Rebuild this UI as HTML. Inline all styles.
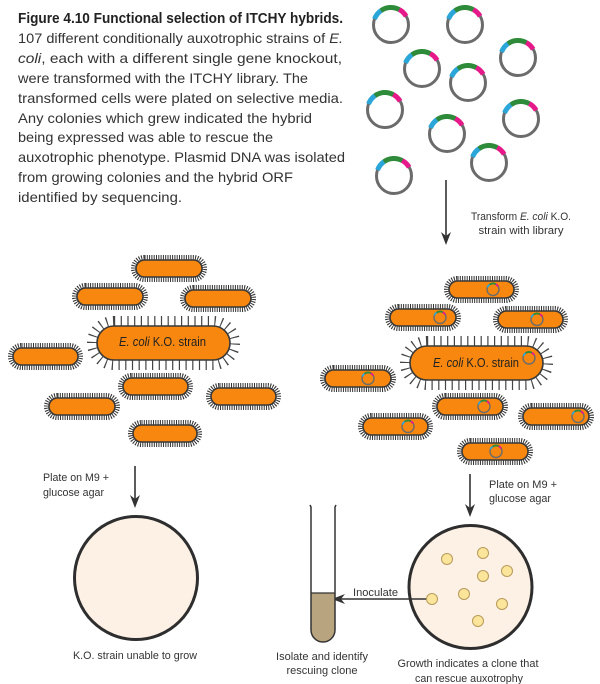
<!DOCTYPE html>
<html><head><meta charset="utf-8"><style>
html,body{margin:0;padding:0;background:#fff;}
svg{display:block;}
.cap{font-family:"Liberation Sans",sans-serif;font-size:14px;fill:#333;}
.ttl{font-family:"Liberation Sans",sans-serif;font-size:14.5px;font-weight:bold;fill:#222;}
.lb{font-family:"Liberation Sans",sans-serif;font-size:11px;fill:#333;}
.bt{font-family:"Liberation Sans",sans-serif;font-size:12.5px;fill:#222;}
.h{fill:none;stroke:#333;stroke-width:5;stroke-dasharray:1 1.3;}
.hb{fill:none;stroke:#444;stroke-width:10;stroke-dasharray:1.2 5.5;}
.b{fill:#f7870f;stroke:#383838;stroke-width:1.6;}
.col{fill:#fbe59a;stroke:#b89a5a;stroke-width:1;}
</style></head><body>
<svg width="600" height="684" viewBox="0 0 600 684" xmlns="http://www.w3.org/2000/svg">
<defs>
<g id="pl">
<circle r="17.5" fill="none" stroke="#6b6b6b" stroke-width="3"/>
<path d="M-16.44 -5.99 A17.5 17.5 0 0 1 -10.04 -14.34" fill="none" stroke="#2ba6d9" stroke-width="5"/>
<path d="M-10.04 -14.34 A17.5 17.5 0 0 1 8.22 -15.45" fill="none" stroke="#2e8b3a" stroke-width="5"/>
<path d="M8.22 -15.45 A17.5 17.5 0 0 1 15.16 -8.75" fill="none" stroke="#e6198a" stroke-width="5"/>
</g>
<g id="ps">
<circle r="6" fill="none" stroke="#6b6b6b" stroke-width="1.4"/>
<path d="M-5.64 -2.05 A6 6 0 0 1 -3.44 -4.91" fill="none" stroke="#2ba6d9" stroke-width="1.8"/>
<path d="M-3.44 -4.91 A6 6 0 0 1 2.82 -5.30" fill="none" stroke="#2e8b3a" stroke-width="1.8"/>
<path d="M2.82 -5.30 A6 6 0 0 1 5.20 -3.00" fill="none" stroke="#e6198a" stroke-width="1.8"/>
</g>
<path id="ahd" d="M0 0 L-5 -13 L0 -9 L5 -13 Z" fill="#333"/>
</defs>

<!-- Caption -->
<text class="ttl" x="18" y="23" textLength="325" lengthAdjust="spacingAndGlyphs">Figure 4.10 Functional selection of ITCHY hybrids.</text>
<text class="cap" x="18" y="43" textLength="325" lengthAdjust="spacingAndGlyphs">107 different conditionally auxotrophic strains of <tspan font-style="italic">E.</tspan></text>
<text class="cap" x="18" y="63" textLength="324" lengthAdjust="spacingAndGlyphs"><tspan font-style="italic">coli</tspan>, each with a different single gene knockout,</text>
<text class="cap" x="18" y="83" textLength="290" lengthAdjust="spacingAndGlyphs">were transformed with the ITCHY library. The</text>
<text class="cap" x="18" y="103" textLength="325" lengthAdjust="spacingAndGlyphs">transformed cells were plated on selective media.</text>
<text class="cap" x="18" y="123" textLength="294" lengthAdjust="spacingAndGlyphs">Any colonies which grew indicated the hybrid</text>
<text class="cap" x="18" y="142" textLength="255" lengthAdjust="spacingAndGlyphs">being expressed was able to rescue the</text>
<text class="cap" x="18" y="162" textLength="327" lengthAdjust="spacingAndGlyphs">auxotrophic phenotype. Plasmid DNA was isolated</text>
<text class="cap" x="18" y="182" textLength="275" lengthAdjust="spacingAndGlyphs">from growing colonies and the hybrid ORF</text>
<text class="cap" x="18" y="202" textLength="164" lengthAdjust="spacingAndGlyphs">identified by sequencing.</text>

<!-- Plasmids -->
<use href="#pl" transform="translate(391,25)"/>
<use href="#pl" transform="translate(465,25)"/>
<use href="#pl" transform="translate(518,58)"/>
<use href="#pl" transform="translate(422,69)"/>
<use href="#pl" transform="translate(468,83)"/>
<use href="#pl" transform="translate(385,110)"/>
<use href="#pl" transform="translate(521,119)"/>
<use href="#pl" transform="translate(447,134)"/>
<use href="#pl" transform="translate(394,176)"/>
<use href="#pl" transform="translate(489,163)"/>

<!-- Transform arrow -->
<line x1="446" y1="180" x2="446" y2="238" stroke="#333" stroke-width="1.6"/>
<use href="#ahd" transform="translate(446,245)"/>
<text class="lb" x="521" y="220" text-anchor="middle" textLength="100" lengthAdjust="spacingAndGlyphs">Transform <tspan font-style="italic">E. coli</tspan> K.O.</text>
<text class="lb" x="521" y="234" text-anchor="middle" textLength="85" lengthAdjust="spacingAndGlyphs">strain with library</text>

<!-- Left bacteria -->
<rect class="h" x="133.5" y="257.5" width="71" height="22" rx="11"/><rect class="b" x="136" y="260" width="66" height="17" rx="8.5"/>
<rect class="h" x="74.5" y="285.5" width="71" height="22" rx="11"/><rect class="b" x="77" y="288" width="66" height="17" rx="8.5"/>
<rect class="h" x="182.5" y="287.5" width="71" height="22" rx="11"/><rect class="b" x="185" y="290" width="66" height="17" rx="8.5"/>
<rect class="h" x="10.5" y="345.5" width="70" height="22" rx="11"/><rect class="b" x="13" y="348" width="65" height="17" rx="8.5"/>
<rect class="h" x="120.5" y="375.5" width="70" height="22" rx="11"/><rect class="b" x="123" y="378" width="65" height="17" rx="8.5"/>
<rect class="h" x="208.5" y="385.5" width="70" height="22" rx="11"/><rect class="b" x="211" y="388" width="65" height="17" rx="8.5"/>
<rect class="h" x="46.5" y="395.5" width="71" height="22" rx="11"/><rect class="b" x="49" y="398" width="66" height="17" rx="8.5"/>
<rect class="h" x="130.5" y="422.5" width="69" height="22" rx="11"/><rect class="b" x="133" y="425" width="64" height="17" rx="8.5"/>
<rect class="hb" x="92" y="321" width="143" height="44" rx="22"/><rect class="b" x="97" y="326" width="133" height="34" rx="17"/>
<text class="bt" x="119" y="346" textLength="87" lengthAdjust="spacingAndGlyphs"><tspan font-style="italic">E. coli</tspan> K.O. strain</text>

<!-- Right bacteria -->
<rect class="h" x="446.5" y="278.5" width="70" height="22" rx="11"/><rect class="b" x="449" y="281" width="65" height="17" rx="8.5"/><use href="#ps" transform="translate(493,289.5)"/>
<rect class="h" x="387.5" y="306.5" width="71" height="22" rx="11"/><rect class="b" x="390" y="309" width="66" height="17" rx="8.5"/><use href="#ps" transform="translate(440,317.5)"/>
<rect class="h" x="495.5" y="308.5" width="70" height="22" rx="11"/><rect class="b" x="498" y="311" width="65" height="17" rx="8.5"/><use href="#ps" transform="translate(537,319.5)"/>
<rect class="h" x="322.5" y="367.5" width="71" height="22" rx="11"/><rect class="b" x="325" y="370" width="66" height="17" rx="8.5"/><use href="#ps" transform="translate(368,378.5)"/>
<rect class="h" x="434.5" y="395.5" width="71" height="22" rx="11"/><rect class="b" x="437" y="398" width="66" height="17" rx="8.5"/><use href="#ps" transform="translate(484,406.5)"/>
<rect class="h" x="520.5" y="405.5" width="71" height="22" rx="11"/><rect class="b" x="523" y="408" width="66" height="17" rx="8.5"/><use href="#ps" transform="translate(578,416.5)"/>
<rect class="h" x="360.5" y="415.5" width="70" height="22" rx="11"/><rect class="b" x="363" y="418" width="65" height="17" rx="8.5"/><use href="#ps" transform="translate(408,426.5)"/>
<rect class="h" x="459.5" y="440.5" width="71" height="22" rx="11"/><rect class="b" x="462" y="443" width="66" height="17" rx="8.5"/><use href="#ps" transform="translate(496,451.5)"/>
<rect class="hb" x="405" y="341" width="143" height="44" rx="22"/><rect class="b" x="410" y="346" width="133" height="34" rx="17"/>
<text class="bt" x="433" y="367" textLength="86" lengthAdjust="spacingAndGlyphs"><tspan font-style="italic">E. coli</tspan> K.O. strain</text>
<use href="#ps" transform="translate(529,358)"/>

<!-- Left arrow + plate -->
<line x1="135" y1="466" x2="135" y2="501" stroke="#333" stroke-width="1.6"/>
<use href="#ahd" transform="translate(135,508)"/>
<text class="lb" x="43" y="481" textLength="66" lengthAdjust="spacingAndGlyphs">Plate on M9 +</text>
<text class="lb" x="43" y="496" textLength="61" lengthAdjust="spacingAndGlyphs">glucose agar</text>
<circle cx="136" cy="578" r="61.5" fill="#fdf1e6" stroke="#2e2e2e" stroke-width="3"/>
<text class="lb" x="135" y="659" text-anchor="middle" textLength="124" lengthAdjust="spacingAndGlyphs">K.O. strain unable to grow</text>

<!-- Right arrow + plate -->
<line x1="470" y1="474" x2="470" y2="510" stroke="#333" stroke-width="1.6"/>
<use href="#ahd" transform="translate(470,517)"/>
<text class="lb" x="489" y="488" textLength="68" lengthAdjust="spacingAndGlyphs">Plate on M9 +</text>
<text class="lb" x="489" y="502" textLength="62" lengthAdjust="spacingAndGlyphs">glucose agar</text>
<circle cx="470.5" cy="587" r="61.5" fill="#fdf1e6" stroke="#2e2e2e" stroke-width="3"/>
<circle class="col" cx="447" cy="559" r="5.5"/>
<circle class="col" cx="483" cy="553" r="5.5"/>
<circle class="col" cx="507" cy="571" r="5.5"/>
<circle class="col" cx="483" cy="576" r="5.5"/>
<circle class="col" cx="464" cy="594" r="5.5"/>
<circle class="col" cx="502" cy="604" r="5.5"/>
<circle class="col" cx="478" cy="621" r="5.5"/>
<!-- inoculate arrow -->
<line x1="427" y1="599" x2="338" y2="599" stroke="#333" stroke-width="1.6"/>
<use href="#ahd" transform="translate(332,599) rotate(90)"/>
<circle class="col" cx="432" cy="599" r="5.5"/>
<text class="lb" x="353" y="596" textLength="45" lengthAdjust="spacingAndGlyphs">Inoculate</text>
<text class="lb" x="468" y="667" text-anchor="middle" textLength="141" lengthAdjust="spacingAndGlyphs">Growth indicates a clone that</text>
<text class="lb" x="469" y="682" text-anchor="middle" textLength="108" lengthAdjust="spacingAndGlyphs">can rescue auxotrophy</text>

<!-- Test tube -->
<path d="M311 593 L335 593 L335 630 A12 12 0 0 1 311 630 Z" fill="#b8a47e"/>
<line x1="311" y1="593" x2="335" y2="593" stroke="#333" stroke-width="1.2"/>
<path d="M310 505 L311 507 L311 630 A12 12 0 0 0 335 630 L335 507 L336 505" fill="none" stroke="#333" stroke-width="1.5"/>
<text class="lb" x="322" y="660" text-anchor="middle" textLength="92" lengthAdjust="spacingAndGlyphs">Isolate and identify</text>
<text class="lb" x="322" y="674" text-anchor="middle" textLength="71" lengthAdjust="spacingAndGlyphs">rescuing clone</text>
</svg>
</body></html>
